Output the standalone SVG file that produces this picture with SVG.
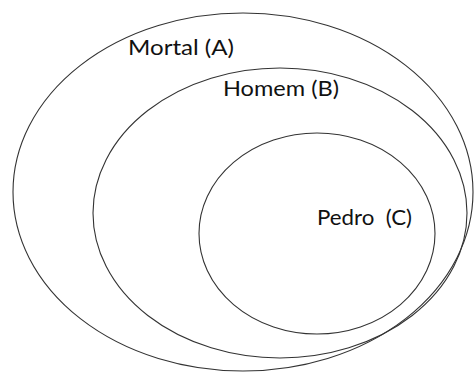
<svg xmlns="http://www.w3.org/2000/svg" width="474" height="372" viewBox="0 0 474 372">
<style>
.set{fill:none;stroke:#333;stroke-width:1.1}
.lbl{font-family:Lato,"Open Sans","Liberation Sans",sans-serif;font-size:22px;fill:#111}
</style>
<rect width="474" height="372" fill="#fff"/>
<g id="mortal">
<ellipse class="set" cx="243" cy="192" rx="230" ry="179"/>
<text class="lbl" x="128" y="55" textLength="106" lengthAdjust="spacingAndGlyphs">Mortal (A)</text>
</g>
<g id="homem">
<ellipse class="set" cx="280" cy="213" rx="187" ry="145"/>
<text class="lbl" x="223" y="96" textLength="116" lengthAdjust="spacingAndGlyphs">Homem (B)</text>
</g>
<g id="pedro">
<ellipse class="set" cx="317" cy="233.5" rx="118" ry="100.5"/>
<text class="lbl" x="317" y="225" xml:space="preserve" textLength="95" lengthAdjust="spacingAndGlyphs">Pedro  (C)</text>
</g>
</svg>
